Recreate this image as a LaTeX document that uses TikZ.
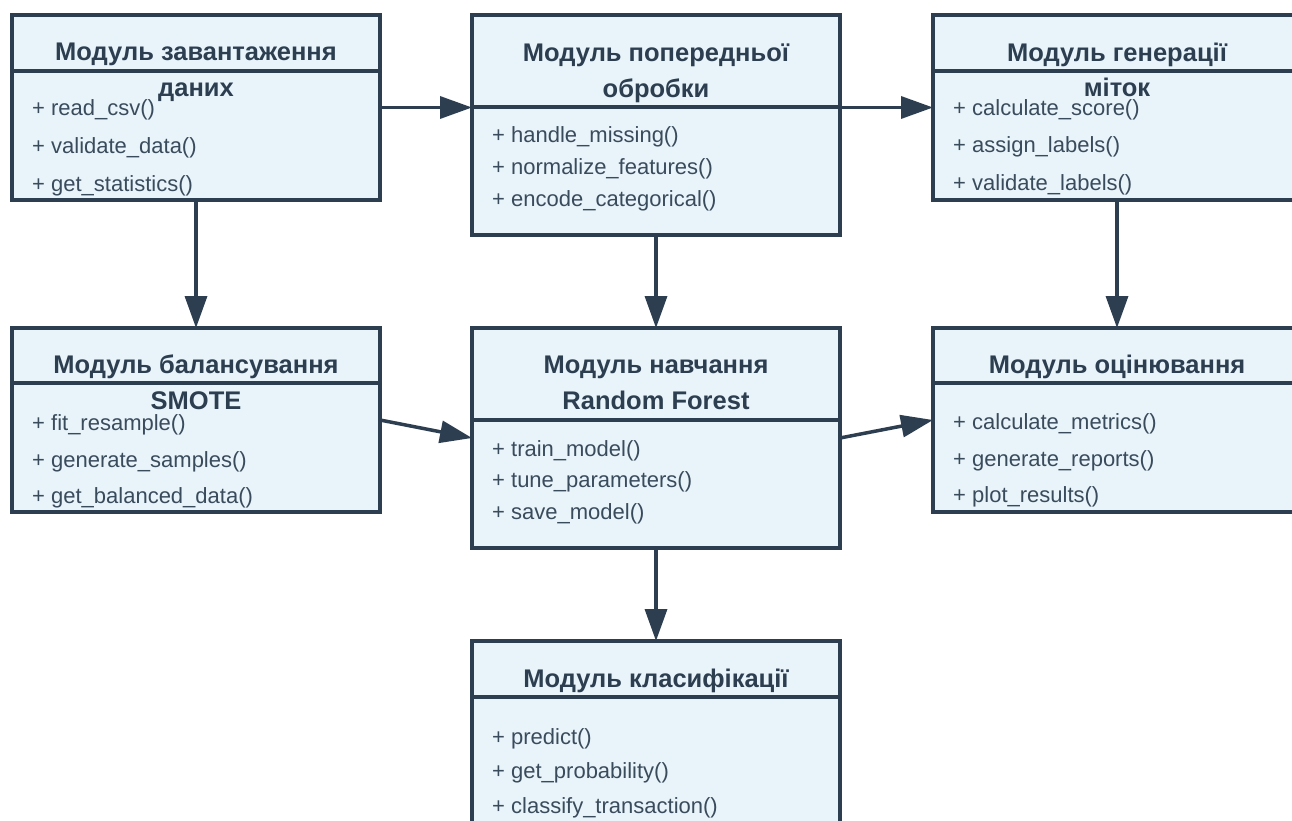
\documentclass[tikz,border=0pt]{standalone}
\usepackage{fontspec}
\setmainfont{Liberation Sans}
\usetikzlibrary{arrows.meta}
\definecolor{edge}{HTML}{2C3E50}
\definecolor{boxfill}{HTML}{E8F4FA}
\definecolor{methodcol}{HTML}{3A4B5C}
\tikzset{
  module/.style={draw=edge, fill=boxfill, line width=3.5pt, anchor=north west,
    minimum width=368pt, inner sep=0pt, outer sep=0pt},
  modtitle/.style={font=\fontsize{25.5}{30}\selectfont\bfseries, text=edge,
    anchor=base, inner sep=0pt},
  method/.style={font=\fontsize{22}{26}\selectfont, text=methodcol,
    anchor=base west, inner sep=0pt},
  divider/.style={draw=edge, line width=3.5pt},
  flow/.style={draw=edge, line width=3.5pt,
    -{Triangle[length=32pt,width=22pt]}},
}
\begin{document}
\begin{tikzpicture}[x=1pt, y=-1pt]
  \useasboundingbox (0,0) rectangle (1292,821);
  \clip (0,0) rectangle (1292,821);
  \fill[white] (0,0) rectangle (1292,821);

  % class boxes
  \node[module, minimum height=185pt] (load)  at (12,15)  {};
  \node[module, minimum height=220pt] (prep)  at (472,15) {};
  \node[module, minimum height=185pt] (label) at (933,15) {};
  \node[module, minimum height=184pt] (smote) at (12,328) {};
  \node[module, minimum height=220pt] (train) at (472,328) {};
  \node[module, minimum height=184pt] (eval)  at (933,328) {};
  \node[module, minimum height=200pt] (clf)   at (472,641) {};

  % compartment dividers
  \draw[divider] (load.west  |- 0,71)  -- (load.east  |- 0,71);
  \draw[divider] (prep.west  |- 0,107) -- (prep.east  |- 0,107);
  \draw[divider] (label.west |- 0,71)  -- (label.east |- 0,71);
  \draw[divider] (smote.west |- 0,383) -- (smote.east |- 0,383);
  \draw[divider] (train.west |- 0,420) -- (train.east |- 0,420);
  \draw[divider] (eval.west  |- 0,383) -- (eval.east  |- 0,383);
  \draw[divider] (clf.west   |- 0,697) -- (clf.east   |- 0,697);

  % data loading
  \node[modtitle] (loadT1) at (load.north |- 0,61) {Модуль завантаження};
  \node[modtitle] (loadT2) at (load.north |- 0,97) {даних};
  \node[method] (loadM1) at (32,116) {+ read\_csv()};
  \node[method] (loadM2) at (32,154) {+ validate\_data()};
  \node[method] (loadM3) at (32,191) {+ get\_statistics()};

  % preprocessing
  \node[modtitle] (prepT1) at (prep.north |- 0,62) {Модуль попередньої};
  \node[modtitle] (prepT2) at (prep.north |- 0,98) {обробки};
  \node[method] (prepM1) at (492,143) {+ handle\_missing()};
  \node[method] (prepM2) at (492,175) {+ normalize\_features()};
  \node[method] (prepM3) at (492,206) {+ encode\_categorical()};

  % label generation
  \node[modtitle] (labelT1) at (label.north |- 0,62) {Модуль генерації};
  \node[modtitle] (labelT2) at (label.north |- 0,97) {міток};
  \node[method] (labelM1) at (953,116) {+ calculate\_score()};
  \node[method] (labelM2) at (953,153) {+ assign\_labels()};
  \node[method] (labelM3) at (953,190) {+ validate\_labels()};

  % SMOTE balancing
  \node[modtitle] (smoteT1) at (smote.north |- 0,373) {Модуль балансування};
  \node[modtitle] (smoteT2) at (smote.north |- 0,409) {SMOTE};
  \node[method] (smoteM1) at (32,430) {+ fit\_resample()};
  \node[method] (smoteM2) at (32,467) {+ generate\_samples()};
  \node[method] (smoteM3) at (32,503) {+ get\_balanced\_data()};

  % training
  \node[modtitle] (trainT1) at (train.north |- 0,373) {Модуль навчання};
  \node[modtitle] (trainT2) at (train.north |- 0,409) {Random Forest};
  \node[method] (trainM1) at (492,456) {+ train\_model()};
  \node[method] (trainM2) at (492,487) {+ tune\_parameters()};
  \node[method] (trainM3) at (492,519) {+ save\_model()};

  % evaluation
  \node[modtitle] (evalT1) at (eval.north |- 0,373) {Модуль оцінювання};
  \node[method] (evalM1) at (953,429) {+ calculate\_metrics()};
  \node[method] (evalM2) at (953,466) {+ generate\_reports()};
  \node[method] (evalM3) at (953,502) {+ plot\_results()};

  % classification
  \node[modtitle] (clfT1) at (clf.north |- 0,687) {Модуль класифікації};
  \node[method] (clfM1) at (492,744) {+ predict()};
  \node[method] (clfM2) at (492,778) {+ get\_probability()};
  \node[method] (clfM3) at (492,813) {+ classify\_transaction()};

  % data flow
  \draw[flow] (load.east) -- (load.east -| prep.west);
  \draw[flow] (prep.east |- label.west) -- (label.west);
  \draw[flow] (load.south) -- (smote.north);
  \draw[flow] (prep.south) -- (train.north);
  \draw[flow] (label.south) -- (eval.north);
  \draw[flow] (smote.east) -- (train.west);
  \draw[flow] (train.east) -- (eval.west);
  \draw[flow] (train.south) -- (clf.north);
\end{tikzpicture}
\end{document}
